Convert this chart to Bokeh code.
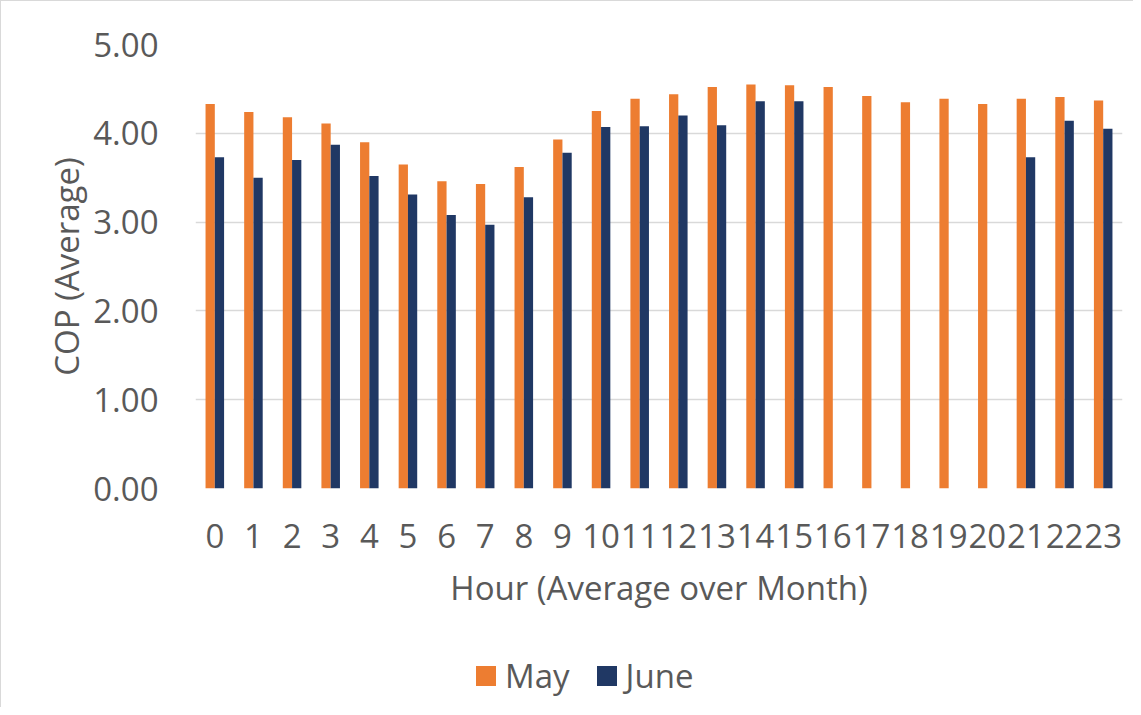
from bokeh.plotting import figure
from bokeh.layouts import column
from bokeh.models import ColumnDataSource, FixedTicker, NumeralTickFormatter, Legend, LegendItem, Range1d
from bokeh.embed import file_html
from bokeh.resources import INLINE

hours = list(range(24))
may = [4.33, 4.24, 4.18, 4.11, 3.90, 3.65, 3.46, 3.43, 3.62, 3.93, 4.25, 4.39,
       4.44, 4.52, 4.55, 4.54, 4.52, 4.42, 4.35, 4.39, 4.33, 4.39, 4.41, 4.37]
june = [3.73, 3.50, 3.70, 3.87, 3.52, 3.31, 3.08, 2.97, 3.28, 3.78, 4.07, 4.08,
        4.20, 4.09, 4.36, 4.36, None, None, None, None, None, 3.73, 4.14, 4.05]
tick_labels = [str(h) for h in hours]
series_names = ["May", "June"]

MAY_COLOR = "#ED7D31"
JUNE_COLOR = "#203864"
TEXT = "#595959"
FONT = "Open Sans"

p = figure(width=1133, height=640, output_backend="svg", toolbar_location=None,
           x_range=Range1d(-0.5, 23.5), y_range=Range1d(0, 5),
           min_border_left=194, min_border_right=12, min_border_top=43, min_border_bottom=153)
p.outline_line_color = None
p.styles = {"border-left": "1px solid #d9d9d9", "border-top": "1px solid #d9d9d9"}

src_may = ColumnDataSource(dict(x=[h - 0.12 for h in hours], top=may))
jx = [h + 0.12 for h, v in zip(hours, june) if v is not None]
jt = [v for v in june if v is not None]
src_june = ColumnDataSource(dict(x=jx, top=jt))

p.vbar(x="x", top="top", width=0.24, bottom=0, source=src_may,
       fill_color=MAY_COLOR, line_color=None)
p.vbar(x="x", top="top", width=0.24, bottom=0, source=src_june,
       fill_color=JUNE_COLOR, line_color=None)

# axes
p.xaxis.ticker = FixedTicker(ticks=hours)
p.xaxis.major_label_overrides = {h: lbl for h, lbl in zip(hours, tick_labels)}
p.xaxis.axis_line_color = None
p.xaxis.major_tick_line_color = None
p.xaxis.minor_tick_line_color = None
p.xaxis.major_label_text_font = FONT
p.xaxis.major_label_text_font_size = "33px"
p.xaxis.major_label_text_color = TEXT
p.xaxis.major_label_standoff = 29
p.xaxis.axis_label = "Hour (Average over Month)"
p.xaxis.axis_label_text_font = FONT
p.xaxis.axis_label_text_font_size = "33px"
p.xaxis.axis_label_text_font_style = "normal"
p.xaxis.axis_label_text_color = TEXT
p.xaxis.axis_label_standoff = 14

p.yaxis.ticker = FixedTicker(ticks=[0, 1, 2, 3, 4, 5])
p.yaxis.formatter = NumeralTickFormatter(format="0.00")
p.yaxis.axis_line_color = None
p.yaxis.major_tick_line_color = None
p.yaxis.minor_tick_line_color = None
p.yaxis.major_label_text_font = FONT
p.yaxis.major_label_text_font_size = "33px"
p.yaxis.major_label_text_color = TEXT
p.yaxis.major_label_standoff = 31
p.yaxis.axis_label = "COP (Average)"
p.yaxis.axis_label_text_font = FONT
p.yaxis.axis_label_text_font_size = "33px"
p.yaxis.axis_label_text_font_style = "normal"
p.yaxis.axis_label_text_color = TEXT
p.yaxis.axis_label_standoff = 1

p.xgrid.grid_line_color = None
p.ygrid.ticker = FixedTicker(ticks=[0, 1, 2, 3, 4, 5])
p.ygrid.grid_line_color = "#d9d9d9"
p.ygrid.grid_line_width = 1.5

# legend strip below the chart (its frame is aligned with the main frame)
lg = figure(width=1133, height=67, output_backend="svg", toolbar_location=None,
            x_range=Range1d(0, 1), y_range=Range1d(0, 1),
            min_border_left=0, min_border_right=0, min_border_top=0, min_border_bottom=0)
lg.axis.visible = False
lg.grid.visible = False
lg.outline_line_color = None
lg.styles = {"border-left": "1px solid #d9d9d9"}
# hidden proxy renderers, only used for the legend swatches
lr_may = lg.vbar(x=[0.5], top=[0.5], width=0.1, fill_color=MAY_COLOR, line_color=None, visible=False)
lr_june = lg.vbar(x=[0.5], top=[0.5], width=0.1, fill_color=JUNE_COLOR, line_color=None, visible=False)

legend = Legend(items=[LegendItem(label=series_names[0], renderers=[lr_may]),
                       LegendItem(label=series_names[1], renderers=[lr_june])],
                location=(278, 9), orientation="horizontal",
                glyph_width=25, glyph_height=25, label_height=25,
                label_standoff=7, spacing=24, padding=0, margin=0,
                border_line_color=None, background_fill_alpha=0,
                label_text_font=FONT, label_text_font_size="33px",
                label_text_color=TEXT)
lg.add_layout(legend)

layout = column(p, lg, spacing=0)
open("out.html", "w").write(file_html(layout, INLINE))
